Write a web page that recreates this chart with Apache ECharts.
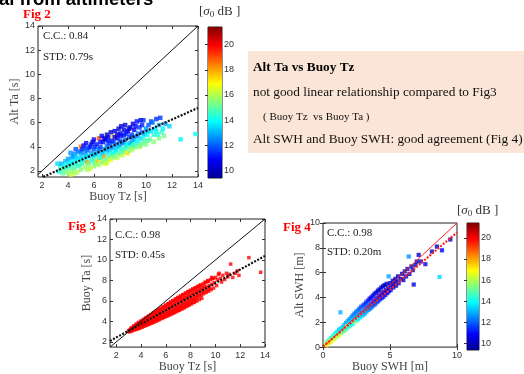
<!DOCTYPE html>
<html><head><meta charset="utf-8">
<script src="https://cdn.jsdelivr.net/npm/echarts@6/dist/echarts.min.js"></script>
<style>html,body{margin:0;padding:0;background:#fff}#c{width:524px;height:374px}</style>
</head><body><div id="c"></div>
<script>
// ---------- DATA ----------
// Fig 2: [Buoy Tz, Alt Ta, sigma0 dB]
const fig2Points = [
[3.2,2.6,13.5],[3.3,1.95,14],[3.4,2.3,14.5],[3.5,2.6,13],[3.6,2.1,15],[3.6,1.8,15],[3.7,2.4,13.8],[3.8,2.8,13.2],[3.8,2.2,14.6],[3.9,1.9,15.5],[3.9,2.5,14.2],[4.0,2.2,14.8],[4.0,3.0,12.8],[4.1,1.75,15.2],[4.1,2.7,13.6],
[4.2,2.4,14.4],[4.2,1.7,16.5],[4.2,3.5,12.6],[4.3,3.1,13],[4.3,2.0,15.6],[4.3,2.6,14],[4.4,2.8,13.8],[4.4,2.3,14.8],[4.4,3.2,12.8],[4.5,3.4,12.5],[4.5,2.2,15],[4.5,1.8,15.8],[4.6,2.6,14.2],[4.6,3.8,11.8],[4.6,3.2,13.2],[4.7,3.0,13.4],[4.7,1.9,16],[4.8,3.6,12.2],[4.8,2.4,14.6],[4.9,2.9,13.9],[4.9,2.5,14.6],[5.0,3.3,13.1],[5.0,4.0,18.5],[5.0,2.1,15.4],[5.0,3.0,13.6],[5.0,3.6,12.4],
[5.1,3.8,11.5],[5.1,2.6,14.5],[5.2,3.1,13.6],[5.2,4.1,11],[5.2,2.8,14.4],[5.3,2.3,15.8],[5.3,3.5,12.6],[5.3,3.9,11.6],[5.4,2.9,14],[5.4,4.3,10.8],[5.4,3.3,13.2],[5.5,2.7,18],[5.5,3.7,12],[5.5,2.1,15.8],[5.6,2.5,15.2],[5.6,3.2,13.5],[5.6,3.9,11.8],[5.7,4.0,11.2],[5.7,2.2,16.2],[5.8,3.5,12.8],[5.8,2.8,14.6],[5.8,4.2,11],[5.9,4.4,10.6],[5.9,3.0,14.2],[5.9,3.3,13.4],[6.0,3.8,11.8],[6.0,2.4,15.6],[6.0,4.6,10.5],[6.0,2.9,14.8],[6.0,3.4,12.8],
[6.1,3.3,13.6],[6.1,2.7,15],[6.1,4.0,11.6],[6.2,4.2,11.2],[6.2,3.4,13.2],[6.2,2.6,15.6],[6.3,2.9,17.5],[6.3,3.6,13],[6.4,4.7,19],[6.4,2.5,16],[6.4,3.8,12.2],[6.4,3.1,14.6],[6.5,3.1,14.4],[6.5,4.0,11.6],[6.5,4.4,11],[6.6,4.9,10.8],[6.6,3.4,13.4],[6.6,2.7,15.8],[6.7,2.8,15.4],[6.7,4.4,11],[6.7,3.6,13.2],[6.8,3.2,18.2],[6.8,3.8,12.6],[6.8,4.7,10.6],[6.9,2.6,16.4],[6.9,4.6,10.4],[6.9,3.0,15.2],[7.0,3.5,13.8],[7.0,4.1,12],[7.0,5.0,10.2],[7.0,3.8,12.8],[7.0,2.7,16.2],
[7.1,3.0,15.6],[7.1,4.8,10.6],[7.1,4.5,11.2],[7.2,3.7,13.2],[7.2,4.3,11.4],[7.2,3.3,14.4],[7.3,2.9,16.6],[7.3,5.2,10.3],[7.3,4.0,12.4],[7.4,3.4,14.6],[7.4,4.5,11.2],[7.4,3.1,15.8],[7.5,4.85,17.5],[7.5,3.9,12.8],[7.5,4.4,11.6],[7.5,3.5,14.2],[7.6,3.2,15.2],[7.6,5.3,10.6],[7.6,4.8,10.8],[7.7,4.2,12.2],[7.7,3.6,14],[7.7,3.8,13.6],[7.8,4.7,10.8],[7.8,3.1,16],[7.8,5.0,10.6],[7.9,5.5,10.2],[7.9,4.0,13.2],[7.9,3.4,15.4],[8.0,3.5,15],[8.0,4.5,11.6],[8.0,5.1,10.4],[8.0,4.2,12.8],
[8.1,3.8,14.2],[8.1,5.7,10.5],[8.1,4.9,11],[8.2,4.3,12.6],[8.2,3.3,16.2],[8.2,3.6,15],[8.3,5.0,11],[8.3,3.9,14.6],[8.3,4.4,12.4],[8.3,5.4,10.4],[8.4,4.6,12],[8.4,5.8,10.2],[8.4,3.8,14.6],[8.5,3.6,15.6],[8.5,4.2,13.6],[8.5,5.1,11.2],[8.6,3.46,17.2],[8.6,5.3,10.8],[8.6,4.1,13.8],[8.7,4.8,11.8],[8.7,4.0,14.8],[8.7,5.5,10.6],[8.8,5.6,10.4],[8.8,3.7,15.4],[8.8,4.3,13.2],[8.9,4.4,13],[8.9,5.0,11.4],[8.9,3.9,15.6],[9.0,4.1,14.4],[9.0,5.9,10.6],[9.0,3.8,16],[9.0,4.8,12],
[9.1,4.6,12.8],[9.1,5.4,10.8],[9.1,4.2,14.6],[9.2,4.0,15],[9.2,5.7,11],[9.3,4.9,12.2],[9.3,6.1,11],[9.3,4.5,13.8],[9.4,4.3,14.2],[9.4,5.1,12.4],[9.5,5.6,11.6],[9.5,4.0,15.8],[9.6,4.7,13.4],[9.6,4.1,15.4],[9.6,6.2,10.6],[9.7,5.2,12],[9.7,4.3,15.2],[9.7,5.8,11.2],[9.8,6.2,11.4],[9.8,4.8,14],[9.9,4.5,14.8],[9.9,5.1,13],[10.0,5.5,12.6],[10.0,4.2,15.4],[10.1,5.0,13.8],[10.1,4.5,15],
[10.2,5.8,11.8],[10.2,5.3,13.2],[10.3,4.6,15],[10.4,5.3,13.6],[10.4,6.1,11.8],[10.5,6.0,12.2],[10.6,4.4,15.6],[10.6,5.0,14.4],[10.7,5.5,13.2],[10.8,6.3,11.4],[10.8,5.3,14],[10.9,5.0,14.2],[11.0,5.8,13],[11.0,4.7,15.4],[11.1,6.4,11.6],[11.2,5.2,14.6],[11.3,5.5,13.8],[11.4,4.9,15.2],[11.5,5.9,12.8],[11.8,5.7,13.4],[12.66,4.62,13.8],[13.8,5.06,14]
];
const fig2OneToOne = [[1.7,1.7],[14,14]];
const fig2Fit = [[2.1,1.51],[14,7.22]];

// Fig 3: [Buoy Tz, Buoy Ta]
const fig3Points = [
[3.0,3.1],[3.05,3.02],[3.08,3.13],[3.1,3.0],[3.12,3.18],[3.15,3.1],[3.17,3.25],[3.19,3.08],
[3.22,3.39],[3.25,3.13],[3.28,3.28],[3.3,3.1],[3.32,3.35],[3.35,3.24],[3.37,3.45],[3.39,3.2],
[3.42,3.57],[3.45,3.25],[3.48,3.43],[3.5,3.17],[3.52,3.52],[3.55,3.38],[3.57,3.65],[3.59,3.3],
[3.62,3.75],[3.65,3.36],[3.68,3.57],[3.7,3.25],[3.72,3.67],[3.75,3.5],[3.77,3.83],[3.79,3.32],
[3.82,3.9],[3.85,3.47],[3.88,3.7],[3.9,3.35],[3.92,3.8],[3.95,3.6],[3.97,4.0],[3.99,3.42],
[4.02,4.05],[4.05,3.58],[4.08,3.84],[4.1,3.45],[4.12,3.96],[4.15,3.72],[4.17,4.15],[4.19,3.55],
[4.22,4.22],[4.25,3.7],[4.28,3.98],[4.3,3.55],[4.32,4.1],[4.35,3.83],[4.37,4.32],[4.39,3.65],
[4.42,4.37],[4.45,3.8],[4.48,4.1],[4.5,3.65],[4.52,4.25],[4.55,3.95],[4.57,4.48],[4.59,3.75],
[4.62,4.52],[4.65,3.92],[4.68,4.25],[4.7,3.75],[4.72,4.4],[4.75,4.08],[4.77,4.63],[4.79,3.85],
[4.82,4.68],[4.85,4.04],[4.88,4.4],[4.9,3.85],[4.92,4.55],[4.95,4.2],[4.97,4.8],[4.99,3.95],
[5.02,4.83],[5.05,4.16],[5.08,4.52],[5.1,3.96],[5.12,4.7],[5.15,4.32],[5.17,4.95],[5.19,4.06],
[5.22,5.0],[5.25,4.28],[5.28,4.66],[5.3,4.07],[5.32,4.84],[5.35,4.45],[5.37,5.12],[5.39,4.17],
[5.42,5.15],[5.45,4.4],[5.48,4.8],[5.5,4.18],[5.52,4.98],[5.55,4.58],[5.57,5.27],[5.59,4.3],
[5.62,5.3],[5.65,4.52],[5.68,4.94],[5.7,4.3],[5.72,5.12],[5.75,4.7],[5.77,5.43],[5.79,4.4],
[5.82,5.45],[5.85,4.64],[5.88,5.07],[5.9,4.4],[5.92,5.26],[5.95,4.83],[5.97,5.58],[5.99,4.52],
[6.02,5.6],[6.05,4.76],[6.08,5.2],[6.1,4.51],[6.12,5.4],[6.15,4.96],[6.17,5.73],[6.19,4.63],
[6.22,5.75],[6.25,4.89],[6.28,5.35],[6.3,4.63],[6.32,5.55],[6.35,5.09],[6.37,5.88],[6.39,4.76],
[6.42,5.9],[6.45,5.01],[6.48,5.49],[6.5,4.74],[6.52,5.69],[6.55,5.22],[6.57,6.03],[6.59,4.87],
[6.62,6.04],[6.65,5.13],[6.68,5.62],[6.7,4.85],[6.72,5.83],[6.75,5.34],[6.77,6.18],[6.79,4.99],
[6.82,6.2],[6.85,5.26],[6.88,5.76],[6.9,4.97],[6.92,5.98],[6.95,5.48],[6.97,6.34],[6.99,5.11],
[7.02,6.33],[7.05,5.38],[7.08,5.9],[7.1,5.09],[7.12,6.12],[7.15,5.6],[7.17,6.48],[7.19,5.24],
[7.22,6.47],[7.25,5.51],[7.28,6.03],[7.3,5.21],[7.32,6.25],[7.35,5.73],[7.37,6.62],[7.39,5.36],
[7.42,6.61],[7.45,5.63],[7.48,6.16],[7.5,5.33],[7.52,6.38],[7.55,5.86],[7.57,6.76],[7.59,5.48],
[7.62,6.76],[7.65,5.77],[7.68,6.3],[7.7,5.47],[7.72,6.53],[7.75,6.0],[7.77,6.91],[7.79,5.62],
[7.82,6.89],[7.85,5.9],[7.88,6.43],[7.9,5.6],[7.92,6.66],[7.95,6.13],[7.97,7.04],[7.99,5.75],
[8.02,7.02],[8.05,6.03],[8.08,6.56],[8.1,5.73],[8.12,6.79],[8.15,6.26],[8.17,7.17],[8.19,5.88],
[8.22,7.15],[8.25,6.16],[8.28,6.69],[8.3,5.86],[8.32,6.92],[8.35,6.39],[8.37,7.3],[8.39,6.01],
[8.42,7.28],[8.45,6.3],[8.48,6.83],[8.5,6.0],[8.52,7.06],[8.55,6.53],[8.57,7.43],
[8.62,7.41],[8.65,6.43],[8.68,6.96],[8.7,6.13],[8.72,7.19],[8.75,6.66],[8.77,7.56],
[8.82,7.54],[8.85,6.56],[8.88,7.09],[8.9,6.26],[8.92,7.32],[8.95,6.79],
[9.02,7.68],[9.05,6.7],[9.08,7.23],[9.12,7.46],[9.15,6.93],[9.17,7.83],
[9.22,7.81],[9.25,6.83],[9.3,7.36],[9.35,7.06],[9.38,7.9],
[9.4,8.0],[9.42,7.94],[9.45,6.96],[9.5,7.5],[9.55,7.2],
[9.62,8.07],[9.65,7.1],[9.7,7.62],[9.7,8.3],[9.75,8.2],
[9.82,8.2],[9.85,7.25],[9.9,7.78],
[10.02,8.3],[10.1,7.5],[10.15,8.05],[10.25,8.6],[10.3,8.7],
[10.4,8.2],[10.5,7.85],[10.6,8.5],[10.75,8.1],[10.9,8.7],[11.0,8.35],[11.1,8.6],[11.23,9.6],[11.4,8.3],[11.6,8.7],[11.77,8.94],[11.9,8.5],[12.7,10.23],[13.65,8.8]
];
const fig3OneToOne = [[1.5,1.5],[14,14]];
const fig3Fit = [[1.5,2.1],[14,10.4]];

// Fig 4: [Buoy SWH, Alt SWH, sigma0 dB]
const fig4Points = [
[0.2,0.25,15.5],[0.25,0.15,16.8],[0.3,0.4,14.6],[0.35,0.3,17.2],[0.4,0.5,15.2],[0.45,0.35,16.4],[0.5,0.6,14.4],[0.5,0.42,17.6],
[0.55,0.5,16],[0.6,0.72,14.2],[0.62,0.48,17],[0.68,0.66,15.4],[0.72,0.85,13.8],[0.75,0.6,16.6],[0.8,0.78,15],[0.85,1.0,14],[0.88,0.7,16.2],[0.92,0.9,14.8],[0.95,1.12,13.6],
[1.0,0.85,16.4],[1.02,1.05,14.6],[1.08,1.25,13.6],[1.1,0.9,15.8],[1.15,1.12,14.4],[1.2,1.4,13.2],[1.22,1.0,16.8],[1.28,1.22,14.2],[1.3,2.8,13],[1.32,1.5,13.4],[1.38,1.15,15.4],[1.42,1.35,14],
[1.48,1.62,13.2],[1.5,1.25,15.6],[1.55,1.45,14.2],[1.6,1.8,13],[1.62,1.35,15],[1.68,1.6,13.8],[1.72,1.95,12.8],[1.75,1.45,14.8],[1.8,1.72,16.8],[1.85,2.1,12.8],[1.88,1.6,14.6],[1.92,1.85,13.6],
[1.98,2.25,12.6],[2.0,1.7,14.6],[2.05,1.95,13.8],[2.1,2.4,12.8],[2.12,1.8,14.2],[2.18,2.1,13.4],[2.22,2.55,12.4],[2.25,1.9,14],[2.3,2.25,13.2],[2.35,2.7,12.2],[2.38,2.05,16.6],[2.42,2.4,13],
[2.48,2.85,12.2],[2.5,2.15,14.2],[2.55,2.5,13],[2.6,2.95,12.4],[2.62,2.25,13.8],[2.68,2.6,12.8],[2.72,3.1,12],[2.75,2.4,13.6],[2.8,2.75,12.6],[2.85,3.25,11.8],[2.88,2.5,13.4],[2.92,2.85,12.4],
[2.98,3.35,11.8],[3.0,2.6,13.4],[3.05,2.95,12.4],[3.1,3.45,11.6],[3.12,2.7,13],[3.18,3.1,12.2],[3.22,3.6,11.4],[3.25,2.85,12.8],[3.3,3.2,12],[3.35,3.75,11.2],[3.38,3.0,12.6],[3.42,3.35,11.8],
[3.48,3.9,11],[3.5,3.1,12.4],[3.55,3.45,11.6],[3.6,4.0,10.8],[3.62,3.2,12.2],[3.68,3.6,11.4],[3.72,4.15,10.6],[3.75,3.35,12],[3.8,3.7,11.2],[3.85,4.3,10.5],[3.88,3.45,11.8],[3.92,3.85,11],
[3.98,4.4,10.4],[4.0,3.6,11.8],[4.05,3.95,11],[4.1,4.55,10.3],[4.12,3.7,11.6],[4.18,4.1,10.8],[4.22,4.65,10.2],[4.25,3.85,11.4],[4.3,4.2,10.6],[4.35,4.8,10.4],[4.38,3.95,11.2],[4.42,4.35,10.6],
[4.48,4.9,10.2],[4.5,4.05,11.2],[4.55,4.45,10.5],[4.6,5.0,10.3],[4.65,4.2,11],[4.7,4.6,10.4],[4.75,5.1,10.2],[4.8,4.35,10.8],[4.85,4.75,10.3],[4.9,5.7,12.8],[4.92,4.5,10.6],
[5.0,5.15,10.2],[5.05,4.6,10.6],[5.1,4.95,10.3],[5.2,5.35,10.1],[5.25,4.8,10.5],[5.3,5.1,10.2],[5.4,5.5,10.1],[5.45,4.95,10.4],[5.5,5.3,10.2],
[5.6,5.7,10],[5.65,5.15,10.3],[5.8,5.5,10.2],[5.9,5.9,10],[6.0,5.4,10.4],[6.1,6.1,10.1],[6.2,5.7,10.3],[6.3,6.3,10],[6.4,7.3,12.6],[6.45,5.9,10.2],[6.6,6.5,10],[6.7,6.2,10.3],[6.77,5.04,10.5],[6.9,6.6,10.1],[7.0,6.9,10],
[7.14,7.43,10.4],[7.3,6.9,10.2],[7.64,6.68,10.6],[8.13,7.7,10.3],[8.5,8.1,10],[8.88,7.8,10.8],[8.7,5.65,13.4],[9.5,8.67,10.1]
];
const fig4OneToOne = [[0,0],[10,10]];
const fig4Fit = [[0,0.04],[10,9.24]];

// tick labels
const fig2XTicks = [2,4,6,8,10,12,14];
const fig2YTicks = [2,4,6,8,10,12,14];
const fig3XTicks = [2,4,6,8,10,12,14];
const fig3YTicks = [2,4,6,8,10,12,14];
const fig4XTicks = [0,5,10];
const fig4YTicks = [0,2,4,6,8,10];
const cbTicks = [10,12,14,16,18,20];
const cbRange = [9.4,21.4];
const jet = ['#00008f','#0000ff','#0080ff','#00ffff','#80ff80','#ffff00','#ff8000','#ff0000','#800000'];

// ---------- CHART ----------
const chart = echarts.init(document.getElementById('c'));
const SANS = 'Liberation Sans', SERIF = 'Liberation Serif';

function xAxesFor(gi, min, max, ticks, name, gap) {
  return [
    {type:'value', gridIndex:gi, position:'bottom', min, max, name, nameLocation:'middle', nameGap:gap,
     nameTextStyle:{fontFamily:SERIF, fontSize:12, color:'#444'},
     axisLine:{show:false}, splitLine:{show:false},
     axisTick:{inside:true, length:3, lineStyle:{color:'#333'}, customValues:ticks},
     axisLabel:{fontFamily:SANS, fontSize:9, color:'#333', margin:4, customValues:ticks}},
    {type:'value', gridIndex:gi, position:'top', min, max,
     axisLine:{show:false}, splitLine:{show:false},
     axisTick:{inside:true, length:3, lineStyle:{color:'#333'}, customValues:ticks},
     axisLabel:{show:false}}
  ];
}
function yAxesFor(gi, min, max, ticks, name, gap) {
  return [
    {type:'value', gridIndex:gi, position:'left', min, max, name, nameLocation:'middle', nameGap:gap,
     nameTextStyle:{fontFamily:SERIF, fontSize:12, color:'#444'},
     axisLine:{show:false}, splitLine:{show:false},
     axisTick:{inside:true, length:3, lineStyle:{color:'#333'}, customValues:ticks},
     axisLabel:{fontFamily:SANS, fontSize:9, color:'#333', margin:3, customValues:ticks}},
    {type:'value', gridIndex:gi, position:'right', min, max,
     axisLine:{show:false}, splitLine:{show:false},
     axisTick:{inside:true, length:3, lineStyle:{color:'#333'}, customValues:ticks},
     axisLabel:{show:false}}
  ];
}
function cbAxes(gi) {
  return {
    x:{type:'value', gridIndex:gi, min:0, max:1, show:false},
    y:{type:'value', gridIndex:gi, position:'right', min:cbRange[0], max:cbRange[1],
       axisLine:{show:false}, splitLine:{show:false},
       axisTick:{inside:true, length:3, lineStyle:{color:'#333'}, customValues:cbTicks},
       axisLabel:{fontFamily:SANS, fontSize:9, color:'#333', margin:2, customValues:cbTicks}}
  };
}
const cbStops = jet.slice().reverse().map((c,i,a)=>({offset:i/(a.length-1), color:c}));
function cbSeries(xi, yi) {
  return {type:'custom', xAxisIndex:xi, yAxisIndex:yi, silent:true, data:[[0, cbRange[0], cbRange[1]]],
    renderItem:(params, api)=>{
      const p1 = api.coord([0, api.value(2)]);
      const p2 = api.coord([1, api.value(1)]);
      return {type:'rect', shape:{x:p1[0], y:p1[1], width:p2[0]-p1[0], height:p2[1]-p1[1]},
        style:{fill:new echarts.graphic.LinearGradient(0,0,0,1,cbStops)}};
    }};
}
function lineSeries(xi, yi, data, color, dotted) {
  return {type:'line', xAxisIndex:xi, yAxisIndex:yi, data, symbol:'none', silent:true, z:5,
    lineStyle:{color, width:dotted?2.2:1, type:dotted?[2,1.5]:'solid'}};
}

const cb2 = cbAxes(1), cb4 = cbAxes(4);
const gridBase = {show:true, borderColor:'#222', borderWidth:1, backgroundColor:'#fff', containLabel:false};

const xAxis = [
  ...xAxesFor(0, 1.7, 14, fig2XTicks, 'Buoy Tz [s]', 11),
  cb2.x,
  ...xAxesFor(2, 1.5, 14, fig3XTicks, 'Buoy Tz [s]', 8),
  ...xAxesFor(3, 0, 10, fig4XTicks, 'Buoy SWH [m]', 10),
  cb4.x
];
const yAxis = [
  ...yAxesFor(0, 1.5, 14, fig2YTicks, 'Alt Ta [s]', 12),
  cb2.y,
  ...yAxesFor(2, 1.5, 14, fig3YTicks, 'Buoy Ta [s]', 11),
  ...yAxesFor(3, 0, 10, fig4YTicks, 'Alt SWH [m]', 12),
  cb4.y
];

const textBlk = (x,y,text,opts={}) => ({type:'text', x, y, style:Object.assign({text, fontFamily:SERIF, fontSize:11, fill:'#222', verticalAlign:'middle'}, opts)});
const sigmaRich = {i:{fontFamily:SERIF, fontStyle:'italic', fontSize:13, fill:'#333'}, s:{fontFamily:SERIF, fontSize:9, fill:'#333', verticalAlign:'bottom', padding:[6,0,0,0]}, n:{fontFamily:SERIF, fontSize:13, fill:'#333'}};

const option = {
  animation:false,
  grid:[
    Object.assign({left:38, top:26, width:160, height:151}, gridBase),
    Object.assign({left:208, top:27, width:14, height:151}, gridBase),
    Object.assign({left:110, top:219, width:155, height:130}, gridBase),
    Object.assign({left:323, top:223, width:134, height:125}, gridBase),
    Object.assign({left:467, top:223, width:12, height:127}, gridBase)
  ],
  xAxis, yAxis,
  visualMap:{type:'continuous', show:false, min:cbRange[0], max:cbRange[1], dimension:2, seriesIndex:[0,6], inRange:{color:jet}},
  series:[
    {type:'scatter', xAxisIndex:0, yAxisIndex:0, data:fig2Points, symbol:'rect', symbolSize:4.5, z:3},
    lineSeries(0,0,fig2OneToOne,'#111',false),
    lineSeries(0,0,fig2Fit,'#111',true),
    cbSeries(2,2),
    {type:'scatter', xAxisIndex:3, yAxisIndex:3, data:fig3Points, symbol:'rect', symbolSize:3.5, itemStyle:{color:'#ff0000'}, z:3},
    lineSeries(3,3,fig3OneToOne,'#111',false),
    {type:'scatter', xAxisIndex:5, yAxisIndex:5, data:fig4Points, symbol:'rect', symbolSize:4.2, z:3},
    lineSeries(5,5,fig4OneToOne,'#ff2020',false),
    lineSeries(5,5,fig4Fit,'#ff2020',true),
    cbSeries(7,7),
    lineSeries(3,3,fig3Fit,'#111',true)
  ],
  graphic:[
    {type:'text', x:-1, y:9, style:{text:'al from altimeters', fontFamily:SANS, fontWeight:'bold', fontSize:18.5, fill:'#000', verticalAlign:'bottom'}},
    {type:'rect', shape:{x:248, y:51, width:276, height:102}, style:{fill:'#fbe5d6'}, z:-1},
    textBlk(253,68,'Alt Ta vs Buoy Tz',{fontSize:13.3, fontWeight:'bold', fill:'#000'}),
    textBlk(253,93,'not good linear relationship compared to Fig3',{fontSize:13.3, fill:'#111'}),
    textBlk(263,117,'( Buoy Tz  vs Buoy Ta )',{fontSize:11, fill:'#111'}),
    textBlk(253,140,'Alt SWH and Buoy SWH: good agreement (Fig 4)',{fontSize:13.3, fill:'#111'}),
    textBlk(23,15,'Fig 2',{fontSize:13, fontWeight:'bold', fill:'#ff0000'}),
    textBlk(68,227,'Fig 3',{fontSize:13, fontWeight:'bold', fill:'#ff0000'}),
    textBlk(283,228,'Fig 4',{fontSize:13, fontWeight:'bold', fill:'#ff0000'}),
    textBlk(43,36,'C.C.: 0.84'), textBlk(43,57,'STD: 0.79s'),
    textBlk(115,235,'C.C.: 0.98'), textBlk(115,255,'STD: 0.45s'),
    textBlk(327,233,'C.C.: 0.98'), textBlk(327,252,'STD: 0.20m'),
    {type:'text', x:199, y:12, style:{text:'{n|[}{i|σ}{s|0}{n| dB ]}', rich:sigmaRich, verticalAlign:'middle'}},
    {type:'text', x:457, y:211, style:{text:'{n|[}{i|σ}{s|0}{n| dB ]}', rich:sigmaRich, verticalAlign:'middle'}}
  ]
};
chart.setOption(option);
</script></body></html>
